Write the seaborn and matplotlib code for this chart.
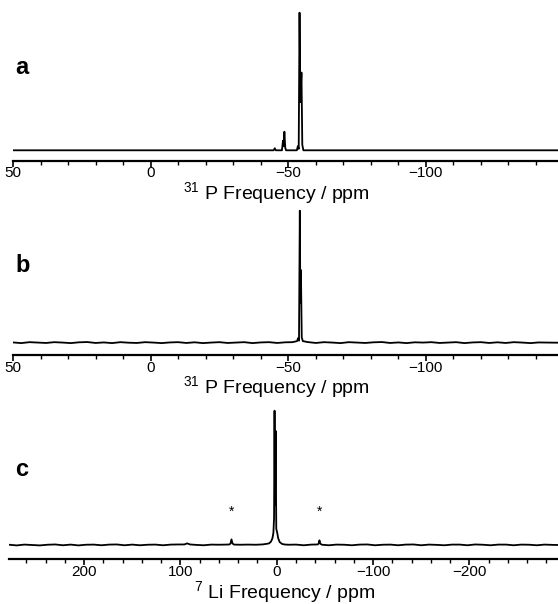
import numpy as np
import pandas as pd
import matplotlib
matplotlib.use("Agg")
import matplotlib.pyplot as plt
import seaborn as sns
from matplotlib.ticker import MultipleLocator

# --- dados (ppm, intensidade normalizada) ---

# a) 31P, pico principal em ~-54 ppm com componente menor em ~-48.7 ppm
a_ppm = [50, -44.7, -45.1, -45.5, -47.7, -48.1, -48.3, -48.6, -48.9, -49.2,
         -53.1, -53.5, -53.8, -54.1, -54.4, -54.8, -55.1, -55.5, -148]
a_int = [0, 0, 0.015, 0, 0, 0.07, 0.03, 0.135, 0.02, 0,
         0, 0.03, 0.01, 1.0, 0.35, 0.565, 0.04, 0, 0]

# b) 31P, um único pico em ~-54 ppm, linha de base com ruído
b_ppm = [50, 47, 44, 41, 38, 35, 32, 29, 26, 23, 20, 17, 14, 11, 8, 5, 2, -1,
         -4, -7, -10, -13, -16, -19, -22, -25, -28, -31, -34, -37, -40, -43,
         -46, -49, -51.5, -53.2, -53.6, -53.9, -54.2, -54.4, -54.6, -54.9,
         -55.3, -57, -60, -63, -66, -69, -72, -75, -78, -81, -84, -87, -90,
         -93, -96, -99, -102, -105, -108, -111, -114, -117, -120, -123, -126,
         -129, -132, -135, -138, -141, -144, -148]
b_int = [0.002, -0.003, 0.004, 0.001, -0.002, 0.004, 0.001, -0.003, 0.003,
         0.005, -0.002, 0.002, -0.003, 0.004, 0.000, -0.002, 0.004, 0.001,
         -0.003, 0.002, 0.004, -0.002, 0.003, -0.003, 0.001, 0.004, -0.002,
         0.001, 0.004, -0.003, 0.002, 0.004, -0.002, 0.003, 0.004,
         0.012, 0.035, 0.015, 1.0, 0.3, 0.55, 0.04,
         0.012, 0.005, -0.002, 0.004, 0.001, -0.003, 0.004, 0.001, -0.002,
         0.003, 0.005, -0.002, 0.002, -0.003, 0.003, 0.001, 0.004, -0.002,
         0.001, 0.004, -0.003, 0.002, 0.004, -0.002, 0.003, -0.002, 0.004,
         0.001, -0.003, 0.002, 0.001, 0.0]

# c) 7Li, pico central ~1 ppm e bandas laterais (*) em ~47 e ~-44 ppm
c_ppm = [278, 270, 262, 254, 246, 238, 230, 222, 214, 206, 198, 190, 182,
         174, 166, 158, 150, 142, 134, 126, 118, 110, 102, 96, 93, 90, 84,
         76, 68, 60, 53, 49, 48, 47, 46, 44.5, 38, 30, 22, 15, 11, 8, 6,
         4.5, 3.5, 2.8, 2.3, 1.8, 1.2, 0.5, -0.5, -1.5, -3, -5.5, -8, -12,
         -20, -28, -36, -42.5, -43.5, -44.3, -45.3, -47, -54, -62, -70, -78,
         -86, -94, -102, -110, -118, -126, -134, -142, -150, -158, -166,
         -174, -182, -190, -198, -206, -214, -222, -230, -238, -246, -254,
         -262, -270, -278, -286, -292]
c_int = [0.002, -0.003, 0.003, 0.000, -0.003, 0.002, 0.004, -0.002, 0.003,
         -0.003, 0.002, 0.003, -0.002, 0.003, 0.004, -0.002, 0.003, -0.002,
         0.002, 0.003, -0.002, 0.003, 0.004, 0.004, 0.012, 0.004, 0.001,
         -0.002, 0.003, 0.002, 0.003, 0.004, 0.012, 0.042, 0.012, 0.003,
         0.002, 0.003, 0.002, 0.004, 0.008, 0.012, 0.025, 0.05, 0.09, 0.2,
         1.0, 0.3, 0.85, 0.12, 0.09, 0.05, 0.022, 0.008, 0.004, 0.002,
         0.003, -0.002, 0.003, 0.004, 0.011, 0.035, 0.009, 0.002, -0.002,
         0.003, 0.002, -0.002, 0.003, 0.004, -0.002, 0.002, 0.003, -0.002,
         0.003, 0.004, -0.002, 0.003, 0.001, -0.002, 0.003, 0.003, -0.002,
         0.004, 0.002, -0.002, 0.003, 0.003, -0.002, 0.003, 0.002, -0.002,
         0.003, 0.001, 0.0]

sideband_ppm = [47, -44]

# --- estilo ---
sns.set_style("white")
plt.rcParams["font.family"] = ["Liberation Sans", "DejaVu Sans"]
plt.rcParams["mathtext.fontset"] = "custom"
plt.rcParams["mathtext.rm"] = "Liberation Sans"
plt.rcParams["mathtext.it"] = "Liberation Sans"
plt.rcParams["mathtext.bf"] = "Liberation Sans:bold"
plt.rcParams["mathtext.default"] = "rm"
plt.rcParams["text.color"] = "black"
plt.rcParams["axes.labelcolor"] = "black"
plt.rcParams["axes.edgecolor"] = "black"
plt.rcParams["xtick.color"] = "black"

W, H = 558, 604
fig = plt.figure(figsize=(W / 100, H / 100), dpi=100)


def make_axes(left_px, axis_px, top_px, base_px, peak_px):
    """Cria eixos em coordenadas de pixel; base/peak definem a escala vertical."""
    ax = fig.add_axes([left_px / W, 1 - axis_px / H,
                       (W - left_px) / W, (axis_px - top_px) / H])
    scale = base_px - peak_px
    ax.set_ylim(-(axis_px - base_px) / scale, (base_px - top_px) / scale)
    return ax


def style_axis(ax, xlim, major, minor, label, label_x_px, label_y_px):
    ax.set_xlim(*xlim)
    ax.xaxis.set_major_locator(MultipleLocator(major))
    ax.xaxis.set_minor_locator(MultipleLocator(minor))
    for s in ["top", "left", "right"]:
        ax.spines[s].set_visible(False)
    ax.spines["bottom"].set_linewidth(1.6)
    ax.set_yticks([])
    ax.set_ylabel("")
    ax.tick_params(axis="x", which="major", direction="out", length=4,
                   width=1.2, labelsize=11, pad=0, bottom=True)
    ax.tick_params(axis="x", which="minor", direction="out", length=3,
                   width=1.0, bottom=True)
    ax.set_xlabel(label, fontsize=14)
    ax.xaxis.set_label_coords(label_x_px / W, 1 - label_y_px / H,
                              transform=fig.transFigure)
    ax.patch.set_visible(False)


panels = [
    ("a", a_ppm, a_int, (50, -148), 50, 10, r"$^{31}$ P Frequency / ppm",
     dict(left_px=13, axis_px=160.7, top_px=5, base_px=150.3, peak_px=12.7), 276, 180, 67),
    ("b", b_ppm, b_int, (50, -148), 50, 10, r"$^{31}$ P Frequency / ppm",
     dict(left_px=13, axis_px=355, top_px=200, base_px=342.7, peak_px=210.7), 276, 374, 265),
    ("c", c_ppm, c_int, (278, -292), 100, 20, r"$^{7}$ Li Frequency / ppm",
     dict(left_px=9, axis_px=559, top_px=400, base_px=545, peak_px=410.7), 285, 579, 470),
]

for letter, ppm, inten, xlim, major, minor, label, geo, lx, ly, letter_y in panels:
    ax = make_axes(**geo)
    df = pd.DataFrame({"ppm": ppm, "intensity": inten})
    sns.lineplot(data=df, x="ppm", y="intensity", ax=ax, color="black",
                 linewidth=1.3, sort=False, estimator=None)
    style_axis(ax, xlim, major, minor, label, lx, ly)
    fig.text(15 / W, 1 - letter_y / H, letter, fontsize=17, fontweight="bold",
             va="center", ha="left")
    if letter == "c":
        for sb in sideband_ppm:
            ax.text(sb, 0.25, "*", ha="center", va="center", fontsize=10)

fig.savefig("out.png", dpi=100)
